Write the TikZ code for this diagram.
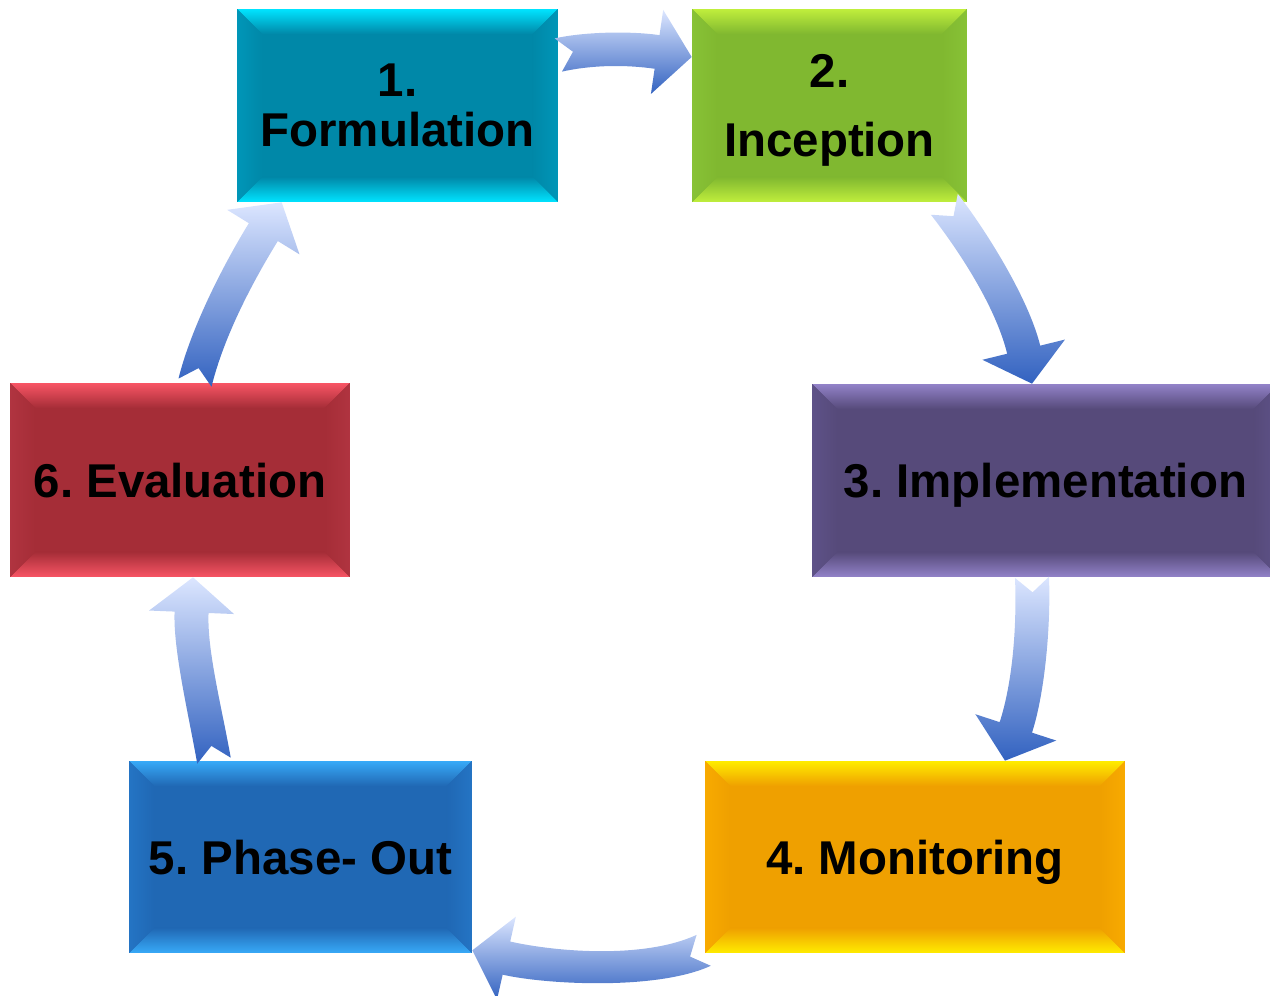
\documentclass[tikz,border=0pt]{standalone}
\usepackage{fontspec}
\setmainfont{Liberation Sans}
\usepackage{tikz}
\usetikzlibrary{calc}
\frenchspacing

\definecolor{formmain}{HTML}{0088A8}
\definecolor{formside}{HTML}{0096B8}
\definecolor{formlight}{HTML}{00E4FF}
\definecolor{incmain}{HTML}{80B830}
\definecolor{incside}{HTML}{88C236}
\definecolor{inclight}{HTML}{C0EE3C}
\definecolor{implmain}{HTML}{564A7A}
\definecolor{implside}{HTML}{5E5288}
\definecolor{impllight}{HTML}{9282C8}
\definecolor{monmain}{HTML}{EFA000}
\definecolor{monside}{HTML}{F8AA00}
\definecolor{monlight}{HTML}{FFEC00}
\definecolor{phasemain}{HTML}{2068B4}
\definecolor{phaseside}{HTML}{2474C4}
\definecolor{phaselight}{HTML}{38AAF8}
\definecolor{evalmain}{HTML}{A52D37}
\definecolor{evalside}{HTML}{B03440}
\definecolor{evallight}{HTML}{F85565}
\definecolor{arrlight}{HTML}{DCE6FF}
\definecolor{arrdark}{HTML}{3262C0}

\tikzset{
  stage/.style={minimum height=3.86cm, inner sep=0pt, align=center, text depth=0pt,
    font=\fontsize{27}{28.4}\selectfont\bfseries},
  bevel/.style n args={3}{fill=#1, path picture={
    \path (path picture bounding box.north west) coordinate (bnw)
      (path picture bounding box.north east) coordinate (bne)
      (path picture bounding box.south west) coordinate (bsw)
      (path picture bounding box.south east) coordinate (bse);
    \shade[top color=#3, bottom color=#1] (bnw) -- (bne) -- ([xshift=-0.5cm,yshift=-0.5cm]bne) -- ([xshift=0.5cm,yshift=-0.5cm]bnw) -- cycle;
    \shade[top color=#1, bottom color=#3] (bsw) -- (bse) -- ([xshift=-0.5cm,yshift=0.5cm]bse) -- ([xshift=0.5cm,yshift=0.5cm]bsw) -- cycle;
    \shade[left color=#2, right color=#1] (bnw) -- ([xshift=0.5cm,yshift=-0.5cm]bnw) -- ([xshift=0.5cm,yshift=0.5cm]bsw) -- (bsw) -- cycle;
    \shade[left color=#1, right color=#2] (bne) -- ([xshift=-0.5cm,yshift=-0.5cm]bne) -- ([xshift=-0.5cm,yshift=0.5cm]bse) -- (bse) -- cycle;
  }}
}

\newcommand{\cyclearrow}[4]{
\coordinate (hb) at ($(#4)!0.7cm!(#3)$);
\shade[top color=arrlight, bottom color=arrdark]
  ($(#1)!0.34cm!90:(#2)$) .. controls ($(#2)!0.34cm!-90:(#1)$) and ($(#3)!0.34cm!90:(hb)$) .. ($(hb)!0.34cm!-90:(#3)$)
  -- ($(hb)!0.85cm!-90:(#3)$) -- (#4) -- ($(hb)!0.85cm!90:(#3)$)
  -- ($(hb)!0.34cm!90:(#3)$) .. controls ($(#3)!0.34cm!-90:(hb)$) and ($(#2)!0.34cm!90:(#1)$) .. ($(#1)!0.34cm!-90:(#2)$)
  -- ($(#1)!0.3cm!(#2)$) -- cycle;
}

\begin{document}
\begin{tikzpicture}[x=0.02cm,y=-0.02cm]
\useasboundingbox (0,0) rectangle (1270,996);

\node[stage, bevel={formmain}{formside}{formlight}, minimum width=6.42cm] (form) at (397.5,105.5) {1.\\Formulation};
\node[stage, bevel={incmain}{incside}{inclight}, minimum width=5.5cm] (inc) at (829.5,105.5) {2.\\[11pt]Inception};
\node[stage, bevel={implmain}{implside}{impllight}, minimum width=9.34cm] (impl) at (1045.5,480.5) {3. Implementation};
\node[stage, bevel={monmain}{monside}{monlight}, minimum width=8.4cm, minimum height=3.84cm] (mon) at (915,857) {4. Monitoring};
\node[stage, bevel={phasemain}{phaseside}{phaselight}, minimum width=6.86cm, minimum height=3.84cm] (phase) at (300.5,857) {5. Phase- Out};
\node[stage, bevel={evalmain}{evalside}{evallight}, minimum width=6.8cm, minimum height=3.88cm] (eval) at (180,480) {6. Evaluation};

\coordinate (t12) at ($(form.east)+(0,-50.5)$);
\coordinate (h12) at ($(inc.west)+(0,-48.5)$);
\coordinate (t23) at ($(inc.south east)+(-23,2)$);
\coordinate (h23) at ($(impl.north)+(-13.5,0)$);
\coordinate (t34) at ($(impl.south)+(-13.5,0)$);
\coordinate (h34) at ($(mon.north)+(90,0)$);
\coordinate (t45) at ($(mon.south west)+(-1,-3)$);
\coordinate (h45) at ($(phase.south east)+(0,-3)$);
\coordinate (t56) at ($(phase.north)+(-86.5,0)$);
\coordinate (h56) at ($(eval.south)+(13,0)$);
\coordinate (t61) at ($(eval.north)+(15,0)$);
\coordinate (h61) at ($(form.south west)+(45,0)$);

\cyclearrow{t12}{590,48}{630,48}{h12}
\cyclearrow{t23}{972,240}{1012,302}{h23}
\cyclearrow{t34}{1034,630}{1028,690}{h34}
\cyclearrow{t45}{650,975}{550,968}{h45}
\cyclearrow{t56}{205,710}{190,650}{h56}
\cyclearrow{t61}{208,330}{240,270}{h61}
\end{tikzpicture}
\end{document}
